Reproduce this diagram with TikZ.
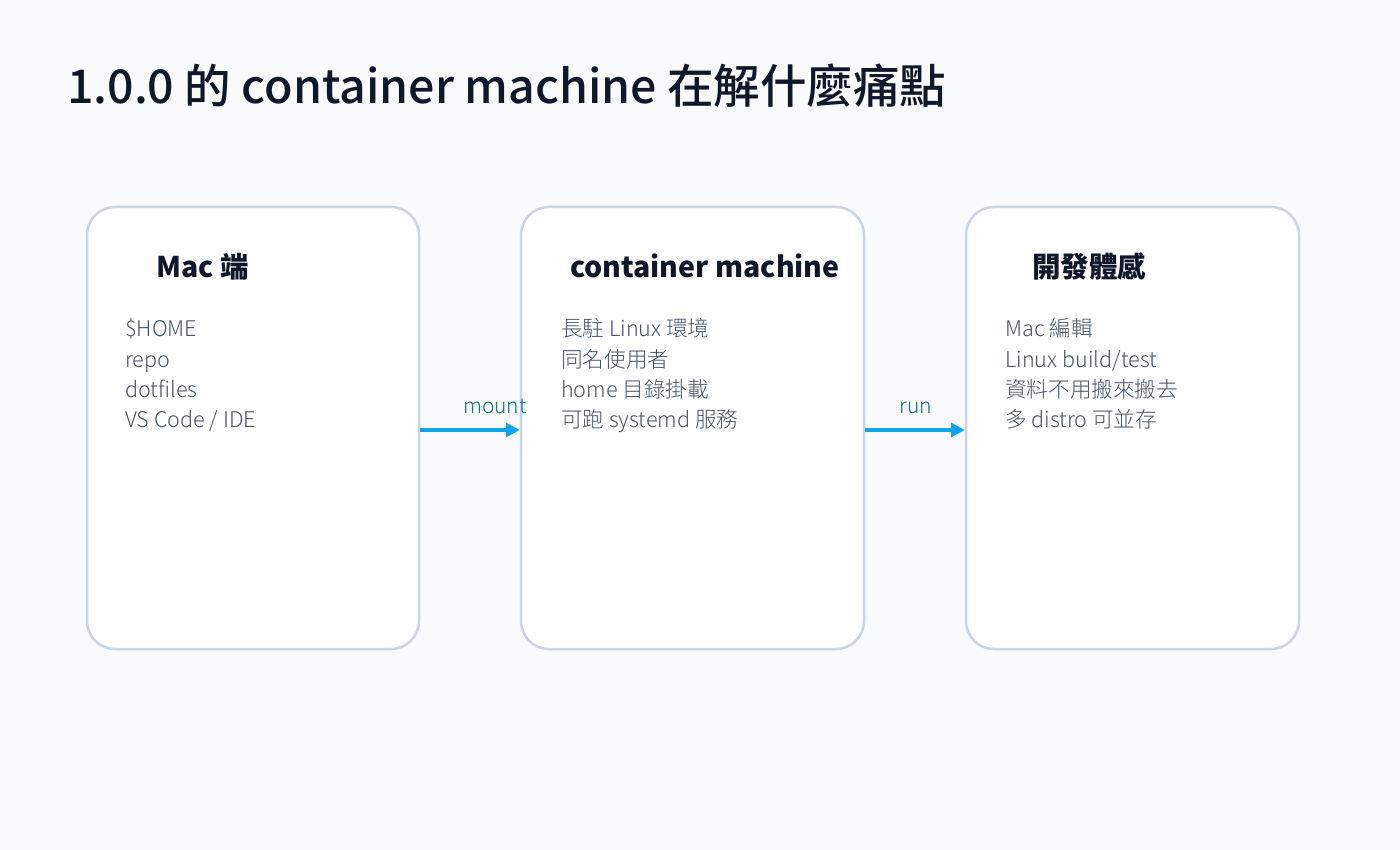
\documentclass[tikz,border=0pt]{standalone}
\usepackage{fontspec}
\setmainfont{Noto Sans CJK TC}
\newfontfamily\lightfont{Noto Sans CJK TC Light}
\newfontfamily\mediumfont{Noto Sans CJK TC Medium}
\usetikzlibrary{arrows.meta}
\definecolor{pagebg}{HTML}{F8FAFC}
\definecolor{ink}{HTML}{0F172A}
\definecolor{bodygray}{HTML}{475569}
\definecolor{cardline}{HTML}{CBD5E1}
\definecolor{flowblue}{HTML}{0EA5E9}
\definecolor{flowtext}{HTML}{0E7490}
\tikzset{
    card/.style={draw=cardline, line width=2.5pt, fill=white, rounded corners=28pt, inner sep=0pt},
    cardtitle/.style={anchor=base west, inner sep=0pt, text=ink, font=\fontsize{28.5}{36}\selectfont\bfseries},
    carditem/.style={anchor=base west, inner sep=0pt, text=bodygray, font=\fontsize{21.6}{30}\selectfont\lightfont},
    flow/.style={draw=flowblue, line width=4pt, -{Triangle[length=14pt,width=14pt]}},
    flowlabel/.style={text=flowtext, font=\fontsize{21}{26}\selectfont\lightfont, inner sep=0pt}
}
\begin{document}
\begin{tikzpicture}[x=1pt,y=-1pt]
        \fill[pagebg] (0,0) rectangle (1400,850);
        \useasboundingbox (0,0) rectangle (1400,850);

        % title
        \node[anchor=base west, inner sep=0pt, text=ink, font=\fontsize{46.5}{52}\selectfont\mediumfont] (title) at (67,104) {1.0.0 的 container machine 在解什麼痛點};

        % cards
        \node[card, minimum width=332pt, minimum height=442pt] (mac) at (253,428) {};
        \node[card, minimum width=343pt, minimum height=442pt] (cm) at (692.5,428) {};
        \node[card, minimum width=333pt, minimum height=442pt] (dev) at (1132.5,428) {};

        % Mac side
        \node[cardtitle] (mactitle) at (156,278) {Mac 端};
        \foreach \txt [count=\i] in {\$HOME, repo, dotfiles, VS Code / IDE}
            \node[carditem] (macitem\i) at (125,307+30*\i) {\txt};

        % container machine
        \node[cardtitle] (cmtitle) at (570,278) {container machine};
        \foreach \txt [count=\i] in {長駐 Linux 環境, 同名使用者, home 目錄掛載, 可跑 systemd 服務}
            \node[carditem] (cmitem\i) at (561,307+30*\i) {\txt};

        % developer experience
        \node[cardtitle] (devtitle) at (1032,278) {開發體感};
        \foreach \txt [count=\i] in {Mac 編輯, Linux build/test, 資料不用搬來搬去, 多 distro 可並存}
            \node[carditem] (devitem\i) at (1005,307+30*\i) {\txt};

        % arrows
        \draw[flow] ([yshift=-2pt]mac.east) -- node[flowlabel, pos=0.75, above=14pt] (mountlabel) {mount} ([yshift=-2pt]cm.west);
        \draw[flow] ([yshift=-2pt]cm.east) -- node[flowlabel, pos=0.51, above=14pt] (runlabel) {run} ([yshift=-2pt]dev.west);
    \end{tikzpicture}
\end{document}
